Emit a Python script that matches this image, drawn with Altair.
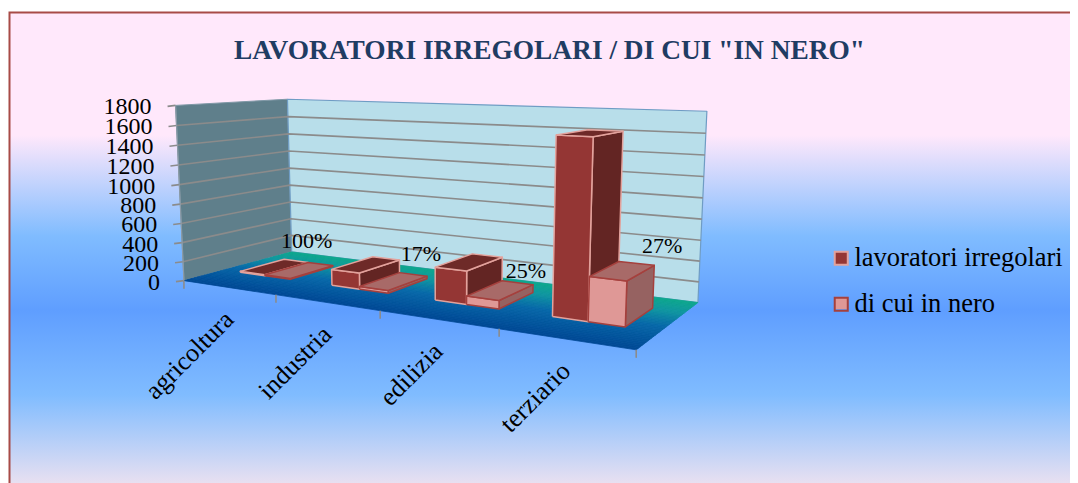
import altair as alt
import numpy as np
import pandas as pd

CATEGORIES = ["agricoltura", "industria", "edilizia", "terziario"]
SERIES = ["lavoratori irregolari", "di cui in nero"]
IRREGOLARI = [10, 165, 320, 1620]
IN_NERO = [10, 28, 80, 405]
PERCENT = ["100%", "17%", "25%", "27%"]
Y_TICKS = [0, 200, 400, 600, 800, 1000, 1200, 1400, 1600, 1800]

W, H = 1062, 475
SERIF = "Liberation Serif"

# camera calibration: (category pos, depth, value) -> page pixel
CAL = [
    ((0, 0, 0), (184, 281)), ((1, 0, 0), (276, 295)), ((2, 0, 0), (380, 311)),
    ((3, 0, 0), (498, 328)), ((4, 0, 0), (637, 350)),
    ((0, 1, 0), (292, 252)), ((4, 1, 0), (698, 302)),
    ((0, 0, 1800), (176, 105)), ((0, 1, 1800), (287, 99)), ((4, 1, 1800), (707, 112)),
]
A = []
for (u, v, z), (px, py) in CAL:
    z = z / 1800
    A.append([u, v, z, 1, 0, 0, 0, 0, -px * u, -px * v, -px * z, -px])
    A.append([0, 0, 0, 0, u, v, z, 1, -py * u, -py * v, -py * z, -py])
P = np.linalg.svd(np.array(A, float))[2][-1].reshape(3, 4)


def proj(u, v, z):
    q = P @ np.array([u, v, z / 1800, 1.0])
    return float(q[0] / q[2]), float(q[1] / q[2])


polys_back, polys_bars, lines = [], [], []


def add_poly(store, pts, fill, stroke, sw=1.5):
    pid = len(store)
    for i, (x, y) in enumerate(list(pts) + [pts[0]]):
        store.append(dict(id=f"p{pid:05d}", seq=i, x=x, y=y, fill=fill, stroke=stroke, sw=sw))


def add_line(pts, color, sw=1.5):
    pid = len(lines)
    for i, (x, y) in enumerate(pts):
        lines.append(dict(id=f"l{pid:05d}", seq=i, x=x, y=y, stroke=color, sw=sw))


def mix(a, b, t):
    return "#" + "".join(f"{round(a[i] + (b[i] - a[i]) * t):02x}" for i in range(3))


# walls
add_poly(polys_back, [proj(0, 0, 0), proj(0, 1, 0), proj(0, 1, 1800), proj(0, 0, 1800)], "#5f7f8b", "#7f98a6", 1)
add_poly(polys_back, [proj(0, 1, 0), proj(4, 1, 0), proj(4, 1, 1800), proj(0, 1, 1800)], "#b8deea", "#6f9cc4", 1.2)
# floor: depth shading as strips
FLOOR = [(0.0, (0, 72, 148)), (0.45, (8, 104, 168)), (0.75, (16, 150, 160)), (1.0, (14, 168, 140))]
N = 36
for k in range(N):
    v0, v1 = k / N, (k + 1) / N
    t = (v0 + v1) / 2
    for (a, ca), (b, cb) in zip(FLOOR, FLOOR[1:]):
        if a <= t <= b:
            c = mix(ca, cb, (t - a) / (b - a))
            break
    add_poly(polys_back, [proj(0, v0, 0), proj(4, v0, 0), proj(4, v1, 0), proj(0, v1, 0)], c, c, 0.8)

# grid lines on the two walls
for z in Y_TICKS[1:-1]:
    add_line([proj(0, 0, z), proj(0, 1, z), proj(4, 1, z)], "#8b8b8b", 1.6)
# axis ticks
for z in Y_TICKS:
    x, y = proj(0, 0, z)
    add_line([(x - 8, y + 1), (x, y)], "#8b8b8b", 1.6)
add_line([proj(0, 0, 0), proj(0, 0, 1800)], "#8b9aa6", 1.2)
for i in range(5):
    x, y = proj(i, 0, 0)
    add_line([(x, y), (x, y + 8)], "#8b8b8b", 1.6)

# bars
V0, V1 = 0.34, 0.76
STYLE = [
    dict(front="#943634", side="#632523", top="#6e2a28", stroke="#e3a29c"),
    dict(front="#df9896", side="#966261", top="#a86a68", stroke="#a5403d"),
]
U = [(0.19, 0.47), (0.47, 0.75)]
for c in range(4):
    for s, vals in enumerate([IRREGOLARI, IN_NERO]):
        z = vals[c]
        a, b = c + U[s][0], c + U[s][1]
        st = STYLE[s]
        add_poly(polys_bars, [proj(b, V0, 0), proj(b, V1, 0), proj(b, V1, z), proj(b, V0, z)], st["side"], st["stroke"])
        add_poly(polys_bars, [proj(a, V0, 0), proj(b, V0, 0), proj(b, V0, z), proj(a, V0, z)], st["front"], st["stroke"])
        add_poly(polys_bars, [proj(a, V0, z), proj(b, V0, z), proj(b, V1, z), proj(a, V1, z)], st["top"], st["stroke"])

X = alt.X("x:Q", scale=alt.Scale(domain=[8, 8 + W], nice=False, zero=False), axis=None)
Y = alt.Y("y:Q", scale=alt.Scale(domain=[8 + H, 8], nice=False, zero=False), axis=None)


def poly_layer(rows):
    return alt.Chart(alt.Data(values=rows)).mark_line(strokeJoin="round").encode(
        x=X, y=Y, order="seq:Q", detail="id:N",
        fill=alt.Fill("fill:N", scale=None),
        stroke=alt.Stroke("stroke:N", scale=None),
        strokeWidth=alt.StrokeWidth("sw:Q", scale=None),
    )


background = alt.Chart(alt.Data(values=[{"k": 1}])).mark_rect(
    stroke="#a84b47", strokeWidth=2,
    fill=alt.Gradient(gradient="linear", x1=0, x2=0, y1=0, y2=1, stops=[
        alt.GradientStop(offset=0, color="#ffe8fb"),
        alt.GradientStop(offset=0.25, color="#ffe8fb"),
        alt.GradientStop(offset=0.455, color="#80bcff"),
        alt.GradientStop(offset=0.607, color="#5f9eff"),
        alt.GradientStop(offset=0.78, color="#80bcff"),
        alt.GradientStop(offset=0.96, color="#e8e0f1"),
        alt.GradientStop(offset=1, color="#e8e0f1"),
    ]),
).encode(x=alt.value(1.5), x2=alt.value(W + 20), y=alt.value(4.5), y2=alt.value(H + 20))

grid = alt.Chart(alt.Data(values=lines)).mark_line(strokeCap="butt").encode(
    x=X, y=Y, order="seq:Q", detail="id:N",
    stroke=alt.Stroke("stroke:N", scale=None),
    strokeWidth=alt.StrokeWidth("sw:Q", scale=None),
)

# text
ytext = []
for z in Y_TICKS:
    x, y = proj(0, 0, z)
    ytext.append(dict(x=x - 24, y=y + 2, t=str(z)))
y_labels = alt.Chart(alt.Data(values=ytext)).mark_text(
    font=SERIF, fontSize=24, align="right", baseline="middle", color="#000000"
).encode(x=X, y=Y, text="t:N")

cats = []
for i, name in enumerate(CATEGORIES):
    x, y = proj(i + 0.5, 0, 0)
    cats.append(dict(x=x + 1, y=y + 28, t=name))
x_labels = alt.Chart(alt.Data(values=cats)).mark_text(
    font=SERIF, fontSize=26, align="right", baseline="middle", angle=315, color="#000000"
).encode(x=X, y=Y, text="t:N")

LABEL_DX = [-26, -6, -7, 8]
LABEL_DY = [-25, -22, -14, -19]
pct = []
for i, t in enumerate(PERCENT):
    x, y = proj(i + U[1][1], V1, IN_NERO[i])
    pct.append(dict(x=x + LABEL_DX[i], y=y + LABEL_DY[i], t=t))
pct_labels = alt.Chart(alt.Data(values=pct)).mark_text(
    font=SERIF, fontSize=22, align="center", baseline="middle", color="#000000"
).encode(x=X, y=Y, text="t:N")

# legend: the filled centres sit under the legend's outlined symbols
LEGEND_FILL = ["#943634", "#df9896"]
legend_swatches = alt.Chart(pd.DataFrame({"x": [841, 841], "y": [258, 303], "fill": LEGEND_FILL})).mark_square(
    size=150, strokeWidth=0, opacity=1
).encode(x=X, y=Y, fill=alt.Fill("fill:N", scale=None))

legend_df = pd.DataFrame({"serie": SERIES, "x": [900, 900], "y": [300, 300]})
legend = alt.Chart(legend_df).mark_square(opacity=0, size=1, filled=False).encode(
    x=X, y=Y,
    stroke=alt.Stroke("serie:N", sort=None, scale=alt.Scale(domain=SERIES, range=["#e3a29c", "#a5403d"]),
                      legend=alt.Legend(
                          title=None, orient="none", legendX=820, legendY=237, symbolType="square",
                          symbolSize=170, symbolStrokeWidth=2, symbolOpacity=1, symbolFillColor="transparent",
                          labelFont=SERIF, labelFontSize=26.5, labelColor="#000000", rowPadding=19,
                          labelOffset=0, labelLimit=300)),
)

chart = alt.layer(
    background, poly_layer(polys_back), grid, poly_layer(polys_bars), y_labels, x_labels, pct_labels,
    legend_swatches, legend
).resolve_scale(fill="independent", stroke="independent", strokeWidth="independent").properties(
    width=W, height=H, padding=0,
    autosize=alt.AutoSizeParams(type="none"),
    title=alt.TitleParams('LAVORATORI IRREGOLARI / DI CUI "IN NERO"', font=SERIF, fontSize=27.4, fontWeight="bold",
                          color="#1f3c63", anchor="start", frame="group", offset=-84, dx=226, baseline="bottom"),
).configure_view(stroke=None)

chart.save("out.html", embed_options={"renderer": "svg", "actions": False})
